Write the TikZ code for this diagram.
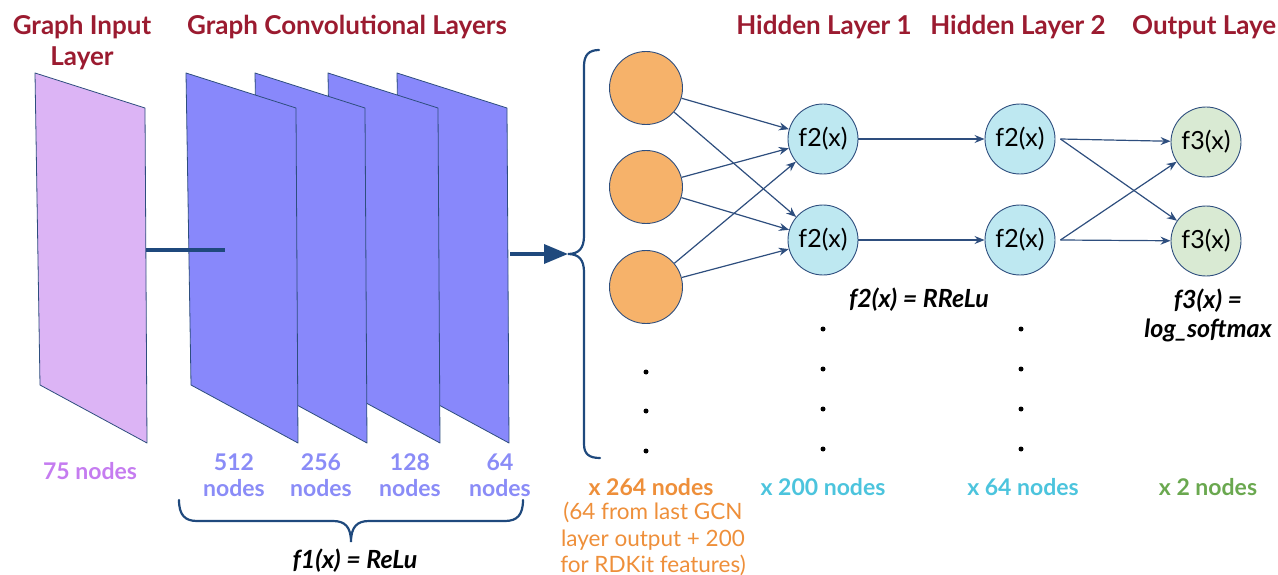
\documentclass[tikz,border=0pt]{standalone}
\usepackage{fontspec}
\setmainfont{Lato}
\usetikzlibrary{arrows.meta}
\definecolor{titlered}{RGB}{155,27,48}
\definecolor{edgeblue}{RGB}{46,78,126}
\definecolor{darkline}{RGB}{31,73,125}
\definecolor{pinkfill}{RGB}{220,180,245}
\definecolor{layerfill}{RGB}{136,136,251}
\definecolor{orangefill}{RGB}{246,178,106}
\definecolor{bluefill}{RGB}{190,232,241}
\definecolor{greenfill}{RGB}{217,234,211}
\definecolor{violettext}{RGB}{197,124,240}
\definecolor{periwinkle}{RGB}{138,140,247}
\definecolor{orangetext}{RGB}{238,143,58}
\definecolor{cyantext}{RGB}{76,196,221}
\definecolor{greentext}{RGB}{106,168,79}
\tikzset{
  title/.style={text=titlered, font=\fontsize{26}{31}\selectfont\bfseries, align=center, inner sep=0pt},
  layerbox/.style={draw=edgeblue, line width=0.8pt, line join=round},
  neuron/.style={circle, draw=edgeblue, line width=0.9pt, minimum size=70pt, inner sep=0pt, font=\fontsize{25}{26}\selectfont},
  inneuron/.style={neuron, fill=orangefill, minimum size=73pt},
  hidneuron/.style={neuron, fill=bluefill},
  outneuron/.style={neuron, fill=greenfill},
  conn/.style={draw=edgeblue, line width=1.2pt, -{Stealth[length=10pt,width=8pt]}},
  thick conn/.style={draw=darkline, line width=3.5pt},
  brace/.style={draw=darkline, line width=2.2pt, line cap=round},
  dotnode/.style={circle, fill=black, inner sep=0pt, minimum size=5pt},
  countlbl/.style={font=\fontsize{23}{26}\selectfont\bfseries, align=center, inner sep=0pt},
  notelbl/.style={font=\fontsize{22.5}{26.5}\selectfont, align=center, inner sep=0pt, text=orangetext},
  funclbl/.style={font=\fontsize{25}{29}\selectfont\bfseries\itshape, align=center, inner sep=0pt},
}
\begin{document}
\begin{tikzpicture}[x=1pt,y=-1pt]
\useasboundingbox (0,0) rectangle (1278,575);

% titles
\node[title] (tin) at (82,43) {Graph Input\\Layer};
\node[title] (tgcn) at (347,27) {Graph Convolutional Layers};
\node[title] (th1) at (824,27) {Hidden Layer 1};
\node[title] (th2) at (1018,27) {Hidden Layer 2};
\node[title, anchor=west] (tout) at (1132,27) {Output Laye};

% input layer sheet
\draw[layerbox, fill=pinkfill] (35,73) -- (145,108) -- (147,443) -- (40,385) -- cycle;
% GCN layers (back to front)
\foreach \x in {397,328,255,186}{
  \draw[layerbox, fill=layerfill] (\x,73) -- (\x+110,108) -- (\x+112,443) -- (\x+5,385) -- cycle;
}

% connector from input to first GCN layer
\coordinate (inR) at (146,250);
\coordinate (gcnM) at (225,250);
\draw[thick conn] (inR) -- (gcnM);

% big brace
\coordinate (braceTip) at (568,254);
\coordinate (gcnR) at (510,254);
\draw[thick conn, -{Triangle[length=24pt,width=19pt]}] (gcnR) -- (braceTip);
\draw[brace] (599,50) .. controls (589,50) and (584,55) .. (584,66) -- (584,236)
  .. controls (584,248) and (579,254) .. (braceTip)
  .. controls (579,254) and (584,260) .. (584,272) -- (584,444)
  .. controls (584,454) and (589,458) .. (600,458);

% neurons
\node[inneuron] (o1) at (646,88) {};
\node[inneuron] (o2) at (646,187) {};
\node[inneuron] (o3) at (646,287) {};
\node[hidneuron] (h1a) at (823,139) {f2(x)};
\node[hidneuron] (h1b) at (823,240) {f2(x)};
\node[hidneuron] (h2a) at (1020,139) {f2(x)};
\node[hidneuron] (h2b) at (1020,240) {f2(x)};
\node[outneuron] (oa) at (1206,142) {f3(x)};
\node[outneuron] (ob) at (1206,241) {f3(x)};

% edges
\foreach \s in {o1,o2,o3}{
  \draw[conn] (\s) -- (h1a);
  \draw[conn] (\s) -- (h1b);
}
\draw[conn] (h1a) -- (h2a);
\draw[conn] (h1b) -- (h2b);
\coordinate (h2aout) at ([xshift=5pt]h2a.east);
\coordinate (h2bout) at ([xshift=5pt]h2b.east);
\draw[conn] (h2aout) -- (oa);
\draw[conn] (h2aout) -- (ob);
\draw[conn] (h2bout) -- (oa);
\draw[conn] (h2bout) -- (ob);

% dots
\foreach \y [count=\i] in {372,411,451}{
  \node[dotnode] (od\i) at (646,\y) {};
}
\foreach \y [count=\i] in {329,369,409,449}{
  \node[dotnode] (h1d\i) at (823,\y) {};
  \node[dotnode] (h2d\i) at (1021,\y) {};
}

% labels
\node[funclbl] (f2) at (919,300) {f2(x) = RReLu};
\node[funclbl] (f3) at (1208,315) {f3(x) =\\log\_softmax};
\node[countlbl, text=violettext] (n75) at (90,471) {75 nodes};
\node[countlbl, text=periwinkle] (n512) at (234,475) {512\\nodes};
\node[countlbl, text=periwinkle] (n256) at (321,475) {256\\nodes};
\node[countlbl, text=periwinkle] (n128) at (410,475) {128\\nodes};
\node[countlbl, text=periwinkle] (n64) at (500,475) {64\\nodes};
\node[countlbl, text=orangetext] (n264) at (651,487) {x 264 nodes};
\node[notelbl] (note) at (653,539) {(64 from last GCN\\layer output + 200\\for RDKit features)};
\node[countlbl, text=cyantext] (n200) at (823,487) {x 200 nodes};
\node[countlbl, text=cyantext] (n64b) at (1023,487) {x 64 nodes};
\node[countlbl, text=greentext] (n2) at (1208,487) {x 2 nodes};

% bottom brace and f1
\coordinate (bTip) at (351,542);
\draw[brace] (179,500) .. controls (179,515) and (185,521) .. (197,521) -- (333,521)
  .. controls (345,521) and (351,527) .. (bTip)
  .. controls (351,527) and (357,521) .. (369,521) -- (505,521)
  .. controls (517,521) and (523,515) .. (523,500);
\node[funclbl, anchor=base] (f1) at (355,568) {f1(x) = ReLu};
\end{tikzpicture}
\end{document}
